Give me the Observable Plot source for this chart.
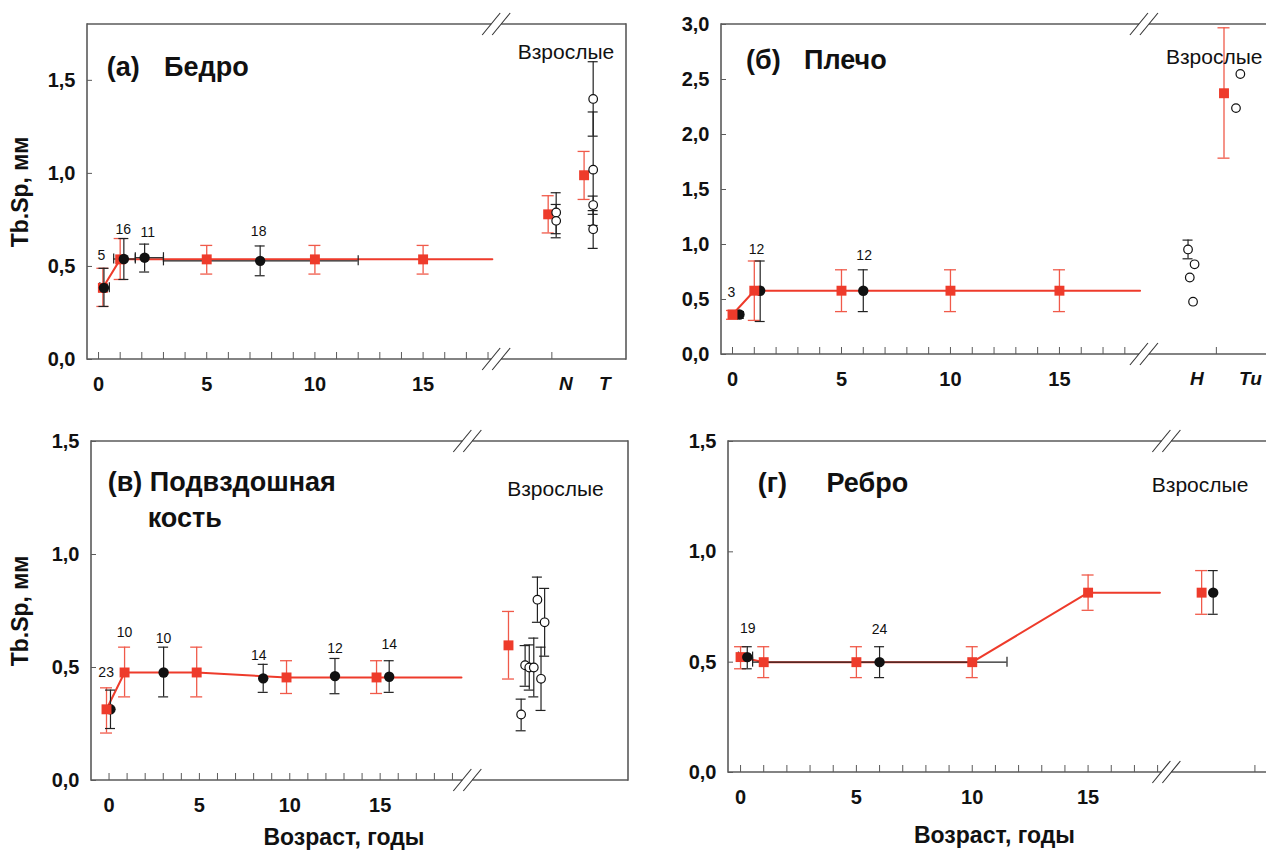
<!DOCTYPE html>
<html><head><meta charset="utf-8">
<script src="https://cdn.jsdelivr.net/npm/d3@7"></script>
<script src="https://cdn.jsdelivr.net/npm/@observablehq/plot@0.6"></script>
<style>
html,body{margin:0;padding:0;background:#fff;overflow:hidden}
#wrap{position:relative;width:1266px;height:852px;overflow:hidden;background:#fff}
.panel{position:absolute}
</style></head><body><div id="wrap"></div>
<script>
// ---------- Panel (а) Бедро ----------
const A_redX = [0.2, 1, 5, 10, 15];
const A_redY = [0.385, 0.538, 0.538, 0.538, 0.538];
const A_redLo = [0.285, 0.43, 0.459, 0.459, 0.459];
const A_redHi = [0.49, 0.65, 0.613, 0.613, 0.613];
const A_lineX = [0.2, 1, 5, 10, 15, 18.2];
const A_lineY = [0.385, 0.538, 0.538, 0.538, 0.538, 0.538];
const A_blkX = [0.25, 1.17, 2.13, 7.47];
const A_blkY = [0.385, 0.54, 0.547, 0.53];
const A_blkLo = [0.285, 0.43, 0.47, 0.45];
const A_blkHi = [0.49, 0.65, 0.62, 0.61];
const A_blkXLo = [0.06, 0.7, 1.7, 3.0];
const A_blkXHi = [0.5, 1.7, 3.0, 12.0];
const A_nText = ["5", "16", "11", "18"];
const A_nX = [0.13, 1.14, 2.27, 7.4];
const A_nY = [0.56, 0.70, 0.68, 0.69];
const A_adRedX = [20.78, 22.44];
const A_adRedY = [0.78, 0.99];
const A_adRedLo = [0.68, 0.86];
const A_adRedHi = [0.88, 1.118];
const A_openX = [21.15, 21.15, 22.86, 22.86, 22.86, 22.86];
const A_openY = [0.79, 0.745, 1.40, 1.02, 0.83, 0.70];
const A_openLo = [0.676, 0.654, 1.20, 0.72, 0.78, 0.597];
const A_openHi = [0.896, 0.833, 1.60, 1.33, 0.878, 0.80];
const A_groupText = ["N", "T"];
const A_groupX = [21.6, 23.4];
const A_yTicks = [0, 0.5, 1.0, 1.5];
const A_xTicks = [0, 5, 10, 15];
const A_minorTicks = [0,1,2,3,4,5,6,7,8,9,10,11,12,13,14,15,16,17,18,20.95];
const A_title = ["(а)", "Бедро"];
const A_titleX = [0.38, 3.03];
const A_titleY = [1.57, 1.57];

// ---------- Panel (б) Плечо ----------
const B_redX = [0, 1, 5, 10, 15];
const B_redY = [0.364, 0.58, 0.58, 0.58, 0.58];
const B_redLo = [0.32, 0.31, 0.39, 0.39, 0.39];
const B_redHi = [0.40, 0.85, 0.77, 0.77, 0.77];
const B_lineX = [0, 1, 5, 10, 15, 18.7];
const B_lineY = [0.364, 0.58, 0.58, 0.58, 0.58, 0.58];
const B_blkX = [0.32, 1.27, 6.0];
const B_blkY = [0.364, 0.58, 0.58];
const B_blkLo = [0.33, 0.30, 0.39];
const B_blkHi = [0.39, 0.85, 0.77];
const B_nText = ["3", "12", "12"];
const B_nX = [-0.05, 1.1, 6.04];
const B_nY = [0.56, 0.95, 0.90];
const B_adRedX = [22.55];
const B_adRedY = [2.375];
const B_adRedLo = [1.785];
const B_adRedHi = [2.97];
const B_openX = [20.9, 21.2, 20.98, 21.13, 23.3, 23.1];
const B_openY = [0.955, 0.82, 0.70, 0.48, 2.55, 2.24];
const B_openLo = [0.87, null, null, null, null, null];
const B_openHi = [1.04, null, null, null, null, null];
const B_groupText = ["H", "Tu"];
const B_groupX = [21.3, 23.76];
const B_yTicks = [0, 0.5, 1.0, 1.5, 2.0, 2.5, 3.0];
const B_xTicks = [0, 5, 10, 15];
const B_minorTicks = [0,1,2,3,4,5,6,7,8,9,10,11,12,13,14,15,16,17,18,22.2];
const B_title = ["(б)", "Плечо"];
const B_titleX = [0.62, 3.28];
const B_titleY = [2.67, 2.67];

// ---------- Panel (в) Подвздошная кость ----------
const C_redX = [-0.14, 0.86, 4.85, 9.82, 14.8];
const C_redY = [0.315, 0.478, 0.478, 0.456, 0.456];
const C_redLo = [0.21, 0.37, 0.37, 0.385, 0.385];
const C_redHi = [0.41, 0.59, 0.59, 0.53, 0.53];
const C_lineX = [-0.14, 0.86, 4.85, 9.82, 14.8, 19.5];
const C_lineY = [0.315, 0.478, 0.478, 0.456, 0.456, 0.456];
const C_blkX = [0.08, 3.02, 8.53, 12.5, 15.5];
const C_blkY = [0.315, 0.478, 0.452, 0.462, 0.459];
const C_blkLo = [0.23, 0.37, 0.39, 0.384, 0.39];
const C_blkHi = [0.40, 0.59, 0.514, 0.54, 0.53];
const C_nText = ["23", "10", "10", "14", "12", "14"];
const C_nX = [-0.16, 0.86, 3.02, 8.28, 12.5, 15.5];
const C_nY = [0.478, 0.655, 0.63, 0.555, 0.586, 0.60];
const C_adRedX = [22.1];
const C_adRedY = [0.598];
const C_adRedLo = [0.449];
const C_adRedHi = [0.748];
const C_openX = [22.8, 23.02, 23.25, 23.5, 23.7, 23.9, 24.1];
const C_openY = [0.292, 0.51, 0.50, 0.50, 0.80, 0.45, 0.70];
const C_openLo = [0.22, 0.417, 0.40, 0.37, 0.70, 0.31, 0.55];
const C_openHi = [0.36, 0.597, 0.60, 0.63, 0.90, 0.59, 0.85];
const C_yTicks = [0, 0.5, 1.0, 1.5];
const C_xTicks = [0, 5, 10, 15];
const C_minorTicks = [0,1,2,3,4,5,6,7,8,9,10,11,12,13,14,15,16,17,18,19];
const C_title = ["(в) Подвздошная", "кость"];
const C_titleX = [-0.07, 2.14];
const C_titleY = [1.32, 1.16];

// ---------- Panel (г) Ребро ----------
const D_redX = [0, 1.0, 5, 10, 15];
const D_redY = [0.523, 0.50, 0.50, 0.50, 0.815];
const D_redLo = [0.47, 0.43, 0.43, 0.43, 0.735];
const D_redHi = [0.57, 0.57, 0.57, 0.57, 0.895];
const D_lineX = [0, 1.0, 5, 10, 15, 18.1];
const D_lineY = [0.523, 0.50, 0.50, 0.50, 0.815, 0.815];
const D_blkX = [0.29, 6.0];
const D_blkY = [0.523, 0.50];
const D_blkLo = [0.47, 0.43];
const D_blkHi = [0.57, 0.57];
const D_blkXLo = [-0.09, 0.52];
const D_blkXHi = [0.52, 11.5];
const D_nText = ["19", "24"];
const D_nX = [0.31, 6.0];
const D_nY = [0.654, 0.65];
const D_adRedX = [19.9];
const D_adRedY = [0.815];
const D_adRedLo = [0.717];
const D_adRedHi = [0.915];
const D_adBlkX = [20.4];
const D_adBlkY = [0.815];
const D_adBlkLo = [0.717];
const D_adBlkHi = [0.915];
const D_yTicks = [0, 0.5, 1.0, 1.5];
const D_xTicks = [0, 5, 10, 15];
const D_minorTicks = [0,1,2,3,4,5,6,7,8,9,10,11,12,13,14,15,16,17,18,22.2];
const D_title = ["(г)", "Ребро"];
const D_titleX = [0.74, 3.71];
const D_titleY = [1.31, 1.31];

const ADULT = "Взрослые";
const Y_TITLE = "Tb.Sp, мм";
const X_TITLE = "Возраст, годы";

// ---------- styling ----------
const FONT = "'Liberation Sans', Arial, sans-serif";
const RED = "#ee3b2b", RED_BAR = "#f05a4a", BLACK = "#111", FRAME = "#5a5a5a";

const rows = (xs, ys, los, his, xlo, xhi) =>
  xs.map((x, i) => ({x, y: ys[i], lo: los ? los[i] : null, hi: his ? his[i] : null,
                     xlo: xlo ? xlo[i] : null, xhi: xhi ? xhi[i] : null}));

function vErr(data, stroke, cap, sw) {
  const d = data.filter(r => r.lo != null);
  return [
    Plot.ruleX(d, {x: "x", y1: "lo", y2: "hi", stroke, strokeWidth: sw}),
    Plot.ruleY(d, {y: "hi", x1: "x", x2: "x", insetLeft: -cap, insetRight: -cap, stroke, strokeWidth: sw}),
    Plot.ruleY(d, {y: "lo", x1: "x", x2: "x", insetLeft: -cap, insetRight: -cap, stroke, strokeWidth: sw})
  ];
}
function hErr(data, stroke, cap, sw) {
  const d = data.filter(r => r.xlo != null);
  return [
    Plot.ruleY(d, {y: "y", x1: "xlo", x2: "xhi", stroke, strokeWidth: sw}),
    Plot.ruleX(d, {x: "xlo", y1: "y", y2: "y", insetTop: -cap, insetBottom: -cap, stroke, strokeWidth: sw}),
    Plot.ruleX(d, {x: "xhi", y1: "y", y2: "y", insetTop: -cap, insetBottom: -cap, stroke, strokeWidth: sw})
  ];
}
function frameMark(p) {
  return (index, scales) => {
    const x = scales.x, y = scales.y;
    const g = d3.create("svg:g").attr("fill", "none");
    const X0 = x(p.xDomain[0]), X1 = x(p.xDomain[1]);
    const Y0 = y(p.yDomain[0]), Y1 = y(p.yDomain[1]);
    const XB = x(p.breakX);
    const line = (a, b, c, d, col, w) => g.append("line").attr("x1", a).attr("y1", b)
      .attr("x2", c).attr("y2", d).attr("stroke", col).attr("stroke-width", w);
    line(X0, Y0 + 0.8, X0, Y1 - 0.8, FRAME, 1.6);
    if (p.rightFrame) line(X1, Y0 + 0.8, X1, Y1 - 0.8, FRAME, 1.6);
    for (const Y of [Y0, Y1]) {
      line(X0, Y, XB - 5, Y, FRAME, 1.6);
      line(XB + 5, Y, X1, Y, FRAME, 1.6);
      line(XB - 14, Y + 11, XB + 4, Y - 11, "#333", 1.1);
      line(XB - 4, Y + 11, XB + 14, Y - 11, "#333", 1.1);
    }
    return g.node();
  };
}

function panel(p) {
  const red = rows(p.redX, p.redY, p.redLo, p.redHi);
  const blk = rows(p.blkX, p.blkY, p.blkLo, p.blkHi, p.blkXLo, p.blkXHi);
  const adRed = rows(p.adRedX, p.adRedY, p.adRedLo, p.adRedHi);
  const adBlk = p.adBlkX ? rows(p.adBlkX, p.adBlkY, p.adBlkLo, p.adBlkHi) : [];
  const open = p.openX ? rows(p.openX, p.openY, p.openLo, p.openHi) : [];
  const y0 = p.yDomain[0], x0 = p.xDomain[0];
  const redDots = [
    Plot.dot(red, {x: "x", y: "y", symbol: "square", r: 5.6, fill: RED}),
    Plot.dot(adRed, {x: "x", y: "y", symbol: "square", r: 5.6, fill: RED})
  ];
  const blkDots = [
    Plot.dot(blk, {x: "x", y: "y", r: 5.2, fill: BLACK}),
    Plot.dot(adBlk, {x: "x", y: "y", r: 5.2, fill: BLACK})
  ];
  const marks = [
    frameMark(p),
    // inward ticks on both axes
    Plot.ruleX(p.minorTicks, {x: d => d, y1: () => y0, y2: () => y0, insetBottom: 7, stroke: FRAME, strokeWidth: 1}),
    Plot.ruleY(p.yTicks, {y: d => d, x1: () => x0, x2: () => x0, insetRight: -5, stroke: FRAME, strokeWidth: 1}),
    Plot.axisY(p.yTicks, {tickSize: 0, tickPadding: 12, fontSize: 20, fontWeight: "bold",
      fill: "#111", label: null, tickFormat: d => d.toFixed(1).replace(".", ",")}),
    Plot.axisX(p.xTicks, {tickSize: 0, tickPadding: 17, fontSize: 20, fontWeight: "bold",
      fill: "#111", label: null, tickFormat: d => String(d)}),
    ...vErr(red, RED_BAR, 6, 1.3),
    ...vErr(adRed, RED_BAR, 6, 1.3),
    Plot.line(p.lineX.map((x, i) => ({x, y: p.lineY[i]})), {x: "x", y: "y", stroke: RED, strokeWidth: 2}),
    ...vErr(blk, "#222", 5, 1.2),
    ...hErr(blk, "#222", 5, 1.2),
    ...vErr(adBlk, "#222", 5, 1.2),
    ...vErr(open, "#222", 5, 1.2),
    ...(p.redFront ? [...blkDots, ...redDots] : [...redDots, ...blkDots]),
    Plot.dot(open, {x: "x", y: "y", r: 4.3, fill: "white", stroke: BLACK, strokeWidth: 1.2}),
    Plot.text(p.nText, {x: (d, i) => p.nX[i], y: (d, i) => p.nY[i], text: d => d,
      fontSize: 14, fill: "#111", textAnchor: "middle", lineAnchor: "middle"}),
    Plot.text(p.title, {x: (d, i) => p.titleX[i], y: (d, i) => p.titleY[i], text: d => d,
      fontSize: 27, fontWeight: "bold", fill: "#111", textAnchor: "start", lineAnchor: "middle"}),
    Plot.text([ADULT], {x: () => p.adultX, y: () => p.adultY, text: d => d,
      fontSize: 21, fill: "#111", textAnchor: p.adultAnchor, lineAnchor: "middle"})
  ];
  if (p.groupText) marks.push(Plot.text(p.groupText, {x: (d, i) => p.groupX[i], y: () => y0, dy: 24,
      text: d => d, fontSize: 19, fontWeight: "bold", fontStyle: "italic", fill: "#111",
      textAnchor: "middle", lineAnchor: "middle"}));
  if (p.yTitle) marks.push(Plot.text([Y_TITLE], {frameAnchor: "left", dx: p.yTitleDx, rotate: -90,
      text: d => d, fontSize: 23, fontWeight: "bold", fill: "#111", textAnchor: "middle", lineAnchor: "middle"}));
  if (p.xTitle) marks.push(Plot.text([X_TITLE], {frameAnchor: "bottom", dx: p.xTitleDx, dy: p.xTitleDy,
      text: d => d, fontSize: 23, fontWeight: "bold", fill: "#111", textAnchor: "middle", lineAnchor: "middle"}));

  const svg = Plot.plot({
    width: p.w, height: p.h,
    marginTop: p.m[0], marginRight: p.m[1], marginBottom: p.m[2], marginLeft: p.m[3],
    x: {domain: p.xDomain, label: null},
    y: {domain: p.yDomain, label: null},
    style: {fontFamily: FONT, background: "transparent", overflow: "visible", color: "#111"},
    marks
  });
  const div = document.createElement("div");
  div.className = "panel";
  div.style.left = p.left + "px";
  div.style.top = p.top + "px";
  div.appendChild(svg);
  document.getElementById("wrap").appendChild(div);
}

panel({left: 0, top: 0, w: 640, h: 420, m: [24, 14, 61, 87],
  xDomain: [-0.51, 24.4], yDomain: [0, 1.8], breakX: 18.4, rightFrame: true, redFront: false,
  redX: A_redX, redY: A_redY, redLo: A_redLo, redHi: A_redHi, lineX: A_lineX, lineY: A_lineY,
  blkX: A_blkX, blkY: A_blkY, blkLo: A_blkLo, blkHi: A_blkHi, blkXLo: A_blkXLo, blkXHi: A_blkXHi,
  nText: A_nText, nX: A_nX, nY: A_nY,
  adRedX: A_adRedX, adRedY: A_adRedY, adRedLo: A_adRedLo, adRedHi: A_adRedHi,
  openX: A_openX, openY: A_openY, openLo: A_openLo, openHi: A_openHi,
  groupText: A_groupText, groupX: A_groupX,
  yTicks: A_yTicks, xTicks: A_xTicks, minorTicks: A_minorTicks,
  title: A_title, titleX: A_titleX, titleY: A_titleY,
  adultX: 21.6, adultY: 1.65, adultAnchor: "middle",
  yTitle: true, yTitleDx: -67});

panel({left: 640, top: 0, w: 626, h: 420, m: [24, 0, 66, 81],
  xDomain: [-0.505, 24.5], yDomain: [0, 3], breakX: 18.9, rightFrame: false, redFront: true,
  redX: B_redX, redY: B_redY, redLo: B_redLo, redHi: B_redHi, lineX: B_lineX, lineY: B_lineY,
  blkX: B_blkX, blkY: B_blkY, blkLo: B_blkLo, blkHi: B_blkHi,
  nText: B_nText, nX: B_nX, nY: B_nY,
  adRedX: B_adRedX, adRedY: B_adRedY, adRedLo: B_adRedLo, adRedHi: B_adRedHi,
  openX: B_openX, openY: B_openY, openLo: B_openLo, openHi: B_openHi,
  groupText: B_groupText, groupX: B_groupX,
  yTicks: B_yTicks, xTicks: B_xTicks, minorTicks: B_minorTicks,
  title: B_title, titleX: B_titleX, titleY: B_titleY,
  adultX: 22.1, adultY: 2.70, adultAnchor: "middle"});

panel({left: 0, top: 420, w: 640, h: 432, m: [21, 12, 72, 91],
  xDomain: [-0.97, 28.74], yDomain: [0, 1.5], breakX: 19.85, rightFrame: true, redFront: true,
  redX: C_redX, redY: C_redY, redLo: C_redLo, redHi: C_redHi, lineX: C_lineX, lineY: C_lineY,
  blkX: C_blkX, blkY: C_blkY, blkLo: C_blkLo, blkHi: C_blkHi,
  nText: C_nText, nX: C_nX, nY: C_nY,
  adRedX: C_adRedX, adRedY: C_adRedY, adRedLo: C_adRedLo, adRedHi: C_adRedHi,
  openX: C_openX, openY: C_openY, openLo: C_openLo, openHi: C_openHi,
  yTicks: C_yTicks, xTicks: C_xTicks, minorTicks: C_minorTicks,
  title: C_title, titleX: C_titleX, titleY: C_titleY,
  adultX: 24.7, adultY: 1.29, adultAnchor: "middle",
  yTitle: true, yTitleDx: -71, xTitle: true, xTitleDx: -16, xTitleDy: 57});

panel({left: 640, top: 420, w: 626, h: 432, m: [21, 0, 80, 88],
  xDomain: [-0.52, 22.7], yDomain: [0, 1.5], breakX: 18.4, rightFrame: false, redFront: false,
  redX: D_redX, redY: D_redY, redLo: D_redLo, redHi: D_redHi, lineX: D_lineX, lineY: D_lineY,
  blkX: D_blkX, blkY: D_blkY, blkLo: D_blkLo, blkHi: D_blkHi, blkXLo: D_blkXLo, blkXHi: D_blkXHi,
  nText: D_nText, nX: D_nX, nY: D_nY,
  adRedX: D_adRedX, adRedY: D_adRedY, adRedLo: D_adRedLo, adRedHi: D_adRedHi,
  adBlkX: D_adBlkX, adBlkY: D_adBlkY, adBlkLo: D_adBlkLo, adBlkHi: D_adBlkHi,
  yTicks: D_yTicks, xTicks: D_xTicks, minorTicks: D_minorTicks,
  title: D_title, titleX: D_titleX, titleY: D_titleY,
  adultX: 17.75, adultY: 1.30, adultAnchor: "start",
  xTitle: true, xTitleDx: -3, xTitleDy: 63});
</script></body></html>
